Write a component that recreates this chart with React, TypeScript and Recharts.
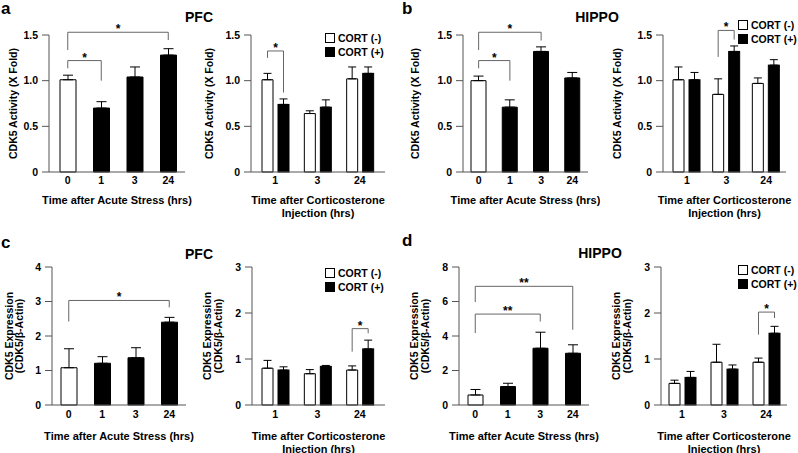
import { BarChart, Bar, XAxis, YAxis, ErrorBar, Cell, ReferenceLine, Legend } from 'recharts';

const FONT = '"Liberation Sans", Arial, Helvetica, sans-serif';
const AXIS = '#555';
const BRACKET = '#666';

// x categories
const acuteHours = ['0', '1', '3', '24'];
const cortHours = ['1', '3', '24'];
const cortGroups = ['CORT (-)', 'CORT (+)'];

// y ticks
const activityTicks = [0, 0.5, 1.0, 1.5];
const pfcExprAcuteTicks = [0, 1, 2, 3, 4];
const cortExprTicks = [0, 1, 2, 3];
const hippoExprAcuteTicks = [0, 2, 4, 6, 8];

// a: PFC CDK5 activity
const pfcActAcute = [1.01, 0.70, 1.04, 1.28];
const pfcActAcuteErr = [0.05, 0.07, 0.11, 0.07];
const pfcActCortMinus = [1.01, 0.64, 1.02];
const pfcActCortMinusErr = [0.07, 0.03, 0.13];
const pfcActCortPlus = [0.74, 0.71, 1.08];
const pfcActCortPlusErr = [0.06, 0.08, 0.07];

// b: HIPPO CDK5 activity
const hipActAcute = [1.00, 0.71, 1.32, 1.03];
const hipActAcuteErr = [0.05, 0.08, 0.05, 0.06];
const hipActCortMinus = [1.01, 0.85, 0.97];
const hipActCortMinusErr = [0.14, 0.17, 0.06];
const hipActCortPlus = [1.01, 1.32, 1.17];
const hipActCortPlusErr = [0.08, 0.06, 0.06];

// c: PFC CDK5 expression
const pfcExpAcute = [1.08, 1.21, 1.37, 2.40];
const pfcExpAcuteErr = [0.55, 0.19, 0.29, 0.14];
const pfcExpCortMinus = [0.80, 0.68, 0.76];
const pfcExpCortMinusErr = [0.17, 0.09, 0.09];
const pfcExpCortPlus = [0.76, 0.84, 1.22];
const pfcExpCortPlusErr = [0.07, 0.02, 0.19];

// d: HIPPO CDK5 expression
const hipExpAcute = [0.58, 1.07, 3.29, 3.00];
const hipExpAcuteErr = [0.32, 0.19, 0.93, 0.49];
const hipExpCortMinus = [0.47, 0.93, 0.93];
const hipExpCortMinusErr = [0.07, 0.39, 0.09];
const hipExpCortPlus = [0.60, 0.78, 1.56];
const hipExpCortPlusErr = [0.13, 0.09, 0.15];

// significance brackets (acute: between two time points; cort: within one time point)
const pfcActAcuteSig = [
  { from: '0', to: '1', level: 1.22, fromEnd: 1.135, toEnd: 1.0, mark: '*' },
  { from: '0', to: '24', level: 1.53, fromEnd: 1.335, toEnd: 1.445, mark: '*' },
];
const pfcActCortSig = [{ at: '1', level: 1.325, fromEnd: 1.25, toEnd: 0.87, mark: '*' }];
const hipActAcuteSig = [
  { from: '0', to: '1', level: 1.22, fromEnd: 1.135, toEnd: 1.0, mark: '*' },
  { from: '0', to: '3', level: 1.53, fromEnd: 1.335, toEnd: 1.44, mark: '*' },
];
const hipActCortSig = [{ at: '3', level: 1.55, fromEnd: 1.26, toEnd: 1.45, mark: '*' }];
const pfcExpAcuteSig = [{ from: '0', to: '24', level: 3.03, fromEnd: 2.42, toEnd: 2.83, mark: '*' }];
const pfcExpCortSig = [{ at: '24', level: 1.66, fromEnd: 1.16, toEnd: 1.56, mark: '*' }];
const hipExpAcuteSig = [
  { from: '0', to: '3', level: 5.27, fromEnd: 4.17, toEnd: 4.84, mark: '**' },
  { from: '0', to: '24', level: 6.88, fromEnd: 5.97, toEnd: 4.36, mark: '**' },
];
const hipExpCortSig = [{ at: '24', level: 2.02, fromEnd: 1.53, toEnd: 1.89, mark: '*' }];

const BAR_W = 11;
const BAR_GAP = 5;

const tickStyle = { fill: '#000', fontSize: 10.5, fontWeight: 'bold', fontFamily: FONT };
const starStyle = { fill: '#000', fontSize: 12, fontWeight: 'bold', fontFamily: FONT };
const fmtActivity = (v: number) => (v === 0 ? '0' : v.toFixed(1));
const fmtInt = (v: number) => String(v);

function YTitle({ viewBox, lines, xs }: any) {
  const cy = viewBox.y + viewBox.height / 2;
  return (
    <g>
      {lines.map((l: string, i: number) => (
        <text key={i} x={xs[i]} y={cy} transform={`rotate(-90 ${xs[i]} ${cy})`} textAnchor="middle"
          dominantBaseline="central" fontSize={10.5} fontWeight="bold" fontFamily={FONT} fill="#000">{l}</text>
      ))}
    </g>
  );
}

function XTitle({ viewBox, lines, dy }: any) {
  const cx = viewBox.x + viewBox.width / 2;
  return (
    <g>
      {lines.map((l: string, i: number) => (
        <text key={i} x={cx} y={viewBox.y + dy + i * 13} textAnchor="middle" dominantBaseline="central"
          fontSize={11} fontWeight="bold" fontFamily={FONT} fill="#000">{l}</text>
      ))}
    </g>
  );
}

function CortLegend({ payload }: any) {
  const items = [...(payload || [])].sort((a: any, b: any) => cortGroups.indexOf(a.value) - cortGroups.indexOf(b.value));
  return (
    <div>
      {items.map((e: any) => (
        <div key={e.value} style={{ display: 'flex', alignItems: 'center', height: 14, fontSize: 10.5, fontWeight: 'bold', fontFamily: FONT, color: '#000', whiteSpace: 'nowrap' }}>
          <span style={{ display: 'inline-block', width: 8, height: 8, border: '1px solid #000', background: e.color, marginRight: 3 }} />
          {e.value}
        </div>
      ))}
    </div>
  );
}

// black bar of a CORT group; draws the CORT(-) vs CORT(+) bracket from the bar's own scale
function PlusBar(props: any) {
  const { x, y, width, height, fill, stroke, payload, sig } = props;
  const rect = <rect x={x} y={y} width={width} height={height} fill={fill} stroke={stroke} strokeWidth={1} />;
  const b = sig.find((s: any) => s.at === payload.time);
  if (!b || !payload.plus) return rect;
  const unit = height / payload.plus;
  const base = y + height;
  const py = (v: number) => base - v * unit;
  const xr = x + width / 2;
  const xl = xr - (width + BAR_GAP);
  return (
    <g>
      {rect}
      <path d={`M${xl},${py(b.fromEnd)}V${py(b.level)}H${xr}V${py(b.toEnd)}`} fill="none" stroke={BRACKET} strokeWidth={1} />
      <text x={(xl + xr) / 2} y={py(b.level) + 1} textAnchor="middle" {...starStyle}>{b.mark}</text>
    </g>
  );
}

function bracketLines(key: string, b: any) {
  const common = { stroke: BRACKET, strokeWidth: 1, ifOverflow: 'visible' as const };
  return [
    <ReferenceLine key={key + 'h'} {...common} segment={[{ x: b.from, y: b.level }, { x: b.to, y: b.level }]}
      label={{ value: b.mark, position: 'top', offset: -1, ...starStyle }} />,
    <ReferenceLine key={key + 'l'} {...common} segment={[{ x: b.from, y: b.level }, { x: b.from, y: b.fromEnd }]} />,
    <ReferenceLine key={key + 'r'} {...common} segment={[{ x: b.to, y: b.level }, { x: b.to, y: b.toEnd }]} />,
  ];
}

function AcutePanel(p: any) {
  const data = acuteHours.map((t, i) => ({ time: t, value: p.values[i], err: [0, p.errs[i]] }));
  return (
    <div style={{ position: 'absolute', left: p.left, top: p.top }}>
      <BarChart width={p.width} height={p.height} data={data}
        margin={{ top: p.plotTop, right: p.width - p.plotRight, bottom: p.bottom, left: 0 }}>
        <XAxis dataKey="time" axisLine={{ stroke: AXIS }} tickLine={false} tickSize={0} tickMargin={p.tickGap}
          tick={tickStyle} padding={{ left: p.padL, right: p.padR }} height={40}
          label={<XTitle lines={['Time after Acute Stress (hrs)']} dy={p.titleDy} />} />
        <YAxis width={p.axisX} domain={[0, p.ticks[p.ticks.length - 1]]} ticks={p.ticks} tickFormatter={p.fmt}
          axisLine={{ stroke: AXIS }} tickLine={{ stroke: AXIS }} tickSize={7} tickMargin={4} tick={tickStyle}
          interval={0} label={<YTitle lines={p.yTitle} xs={p.yTitleX} />} />
        <Bar dataKey="value" barSize={p.barSize} stroke="#000" strokeWidth={1} isAnimationActive={false}>
          {data.map((d, i) => <Cell key={d.time} fill={i === 0 ? '#fff' : '#000'} />)}
          <ErrorBar dataKey="err" width={5} stroke="#000" strokeWidth={1} direction="y" />
        </Bar>
        {p.sig.flatMap((b: any, i: number) => bracketLines('s' + i, b))}
      </BarChart>
    </div>
  );
}

function CortPanel(p: any) {
  const data = cortHours.map((t, i) => ({
    time: t,
    minus: p.minus[i], minusErr: [0, p.minusErr[i]],
    plus: p.plus[i], plusErr: [0, p.plusErr[i]],
  }));
  return (
    <div style={{ position: 'absolute', left: p.left, top: p.top }}>
      <BarChart width={p.width} height={p.height} data={data} barGap={BAR_GAP}
        margin={{ top: p.plotTop, right: p.width - p.plotRight, bottom: p.bottom, left: 0 }}>
        <XAxis dataKey="time" axisLine={{ stroke: AXIS }} tickLine={false} tickSize={0} tickMargin={p.tickGap}
          tick={tickStyle} padding={{ left: p.padL, right: p.padR }} height={40}
          label={<XTitle lines={['Time after Corticosterone', 'Injection (hrs)']} dy={p.titleDy} />} />
        <YAxis width={p.axisX} domain={[0, p.ticks[p.ticks.length - 1]]} ticks={p.ticks} tickFormatter={p.fmt}
          axisLine={{ stroke: AXIS }} tickLine={{ stroke: AXIS }} tickSize={7} tickMargin={4} tick={tickStyle}
          interval={0} label={<YTitle lines={p.yTitle} xs={p.yTitleX} />} />
        <Legend layout="vertical" align="center" verticalAlign="middle" content={<CortLegend />}
          wrapperStyle={{ left: p.legendX, top: p.legendY, width: 70, height: 28 }} />
        <Bar dataKey="minus" name={cortGroups[0]} barSize={BAR_W} fill="#fff" stroke="#000" strokeWidth={1} isAnimationActive={false}>
          <ErrorBar dataKey="minusErr" width={4} stroke="#000" strokeWidth={1} direction="y" />
        </Bar>
        <Bar dataKey="plus" name={cortGroups[1]} barSize={BAR_W} fill="#000" stroke="#000" strokeWidth={1} isAnimationActive={false}
          shape={(sp: any) => <PlusBar {...sp} sig={p.sig} />}>
          <ErrorBar dataKey="plusErr" width={4} stroke="#000" strokeWidth={1} direction="y" />
        </Bar>
      </BarChart>
    </div>
  );
}

const topRow = { top: 0, height: 225, plotTop: 35, bottom: 13, tickGap: 5, titleDy: 27.5 };
const botRow = { top: 225, height: 228, plotTop: 42, bottom: 8, tickGap: 6, titleDy: 30.5 };

const letter = { position: 'absolute' as const, fontFamily: FONT, fontWeight: 'bold' as const, fontSize: 17, lineHeight: '17px' };
const region = { position: 'absolute' as const, fontFamily: FONT, fontWeight: 'bold' as const, fontSize: 14, lineHeight: '14px', width: 80, textAlign: 'center' as const };

export default function App() {
  return (
    <div style={{ position: 'absolute', left: 0, top: 0, width: 798, height: 453, background: '#fff', overflow: 'hidden' }}>
      <AcutePanel {...topRow} left={0} width={200} plotRight={185} axisX={49} padL={2} padR={0} barSize={16}
        values={pfcActAcute} errs={pfcActAcuteErr} ticks={activityTicks} fmt={fmtActivity}
        yTitle={['CDK5 Activity (X Fold)']} yTitleX={[13]} sig={pfcActAcuteSig} />
      <CortPanel {...topRow} left={200} width={200} plotRight={185} axisX={51} padL={3} padR={4}
        minus={pfcActCortMinus} minusErr={pfcActCortMinusErr} plus={pfcActCortPlus} plusErr={pfcActCortPlusErr}
        ticks={activityTicks} fmt={fmtActivity} yTitle={['CDK5 Activity (X Fold)']} yTitleX={[9]}
        legendX={125} legendY={31} sig={pfcActCortSig} />
      <AcutePanel {...topRow} left={400} width={200} plotRight={188} axisX={63} padL={0} padR={0} barSize={15}
        values={hipActAcute} errs={hipActAcuteErr} ticks={activityTicks} fmt={fmtActivity}
        yTitle={['CDK5 Activity (X Fold)']} yTitleX={[15]} sig={hipActAcuteSig} />
      <CortPanel {...topRow} left={600} width={198} plotRight={186} axisX={63} padL={4} padR={0}
        minus={hipActCortMinus} minusErr={hipActCortMinusErr} plus={hipActCortPlus} plusErr={hipActCortPlusErr}
        ticks={activityTicks} fmt={fmtActivity} yTitle={['CDK5 Activity (X Fold)']} yTitleX={[17]}
        legendX={138} legendY={18} sig={hipActCortSig} />

      <AcutePanel {...botRow} left={0} width={200} plotRight={186} axisX={52} padL={0} padR={0} barSize={16}
        values={pfcExpAcute} errs={pfcExpAcuteErr} ticks={pfcExprAcuteTicks} fmt={fmtInt}
        yTitle={['CDK5 Expression', '(CDK5/β-Actin)']} yTitleX={[8.5, 18.5]} sig={pfcExpAcuteSig} />
      <CortPanel {...botRow} left={200} width={200} plotRight={185} axisX={52} padL={2} padR={4}
        minus={pfcExpCortMinus} minusErr={pfcExpCortMinusErr} plus={pfcExpCortPlus} plusErr={pfcExpCortPlusErr}
        ticks={cortExprTicks} fmt={fmtInt} yTitle={['CDK5 Expression', '(CDK5/β-Actin)']} yTitleX={[6.5, 17.5]}
        legendX={125} legendY={41} sig={pfcExpCortSig} />
      <AcutePanel {...botRow} left={400} width={200} plotRight={189} axisX={59} padL={0} padR={0} barSize={15}
        values={hipExpAcute} errs={hipExpAcuteErr} ticks={hippoExprAcuteTicks} fmt={fmtInt}
        yTitle={['CDK5 Expression', '(CDK5/β-Actin)']} yTitleX={[14, 25]} sig={hipExpAcuteSig} />
      <CortPanel {...botRow} left={600} width={198} plotRight={187} axisX={61} padL={0} padR={0}
        minus={hipExpCortMinus} minusErr={hipExpCortMinusErr} plus={hipExpCortPlus} plusErr={hipExpCortPlusErr}
        ticks={cortExprTicks} fmt={fmtInt} yTitle={['CDK5 Expression', '(CDK5/β-Actin)']} yTitleX={[16, 26.5]}
        legendX={138} legendY={38} sig={hipExpCortSig} />

      <div style={{ ...letter, left: 1, top: 0 }}>a</div>
      <div style={{ ...letter, left: 402, top: 0 }}>b</div>
      <div style={{ ...letter, left: 1, top: 234 }}>c</div>
      <div style={{ ...letter, left: 402, top: 232 }}>d</div>
      <div style={{ ...region, left: 159, top: 10 }}>PFC</div>
      <div style={{ ...region, left: 557, top: 10 }}>HIPPO</div>
      <div style={{ ...region, left: 159, top: 247 }}>PFC</div>
      <div style={{ ...region, left: 560, top: 246 }}>HIPPO</div>
    </div>
  );
}
